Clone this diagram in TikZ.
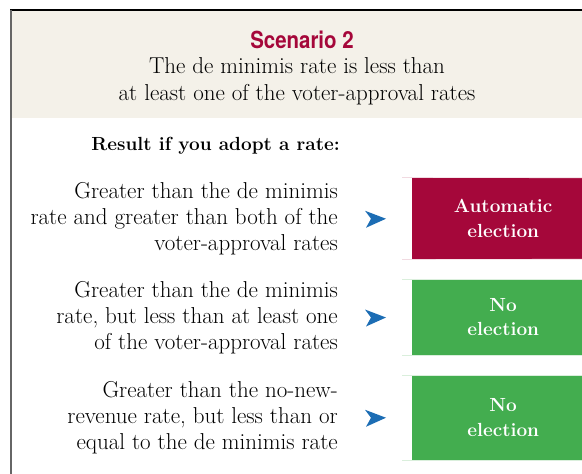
\documentclass[tikz,border=0pt]{standalone}
\usepackage{fontspec}
\usepackage{xcolor}
\usepackage{tikz}
\usetikzlibrary{calc}

\newfontfamily\headfont{TeX Gyre Heros}[FakeStretch=0.87]

\definecolor{paper}{HTML}{F4F1E9}
\definecolor{crimson}{HTML}{A5073A}
\definecolor{leaf}{HTML}{43AD4F}
\definecolor{pointerblue}{HTML}{1C6DB4}

\begin{document}
\begin{tikzpicture}[
  x=1pt, y=-1pt,
  cond/.style={anchor=east, align=right, inner sep=0pt,
    font=\fontsize{23}{25.8}\selectfont},
  outbox/.style={anchor=west, minimum width=182pt, inner sep=0pt,
    align=center, text=white, font=\bfseries\fontsize{19}{24.5}\selectfont},
  edge/.style={line width=0.6pt},
]
\clip (0,0) rectangle (582,474);

% header band and frame
\fill[paper] (11,10) rectangle (582,118);
\draw[black, line width=1.6pt] (10,10) -- (582,10);
\draw[black!60, line width=2pt] (10.5,9.5) -- (10.5,474);

\node[text=crimson, font=\headfont\bfseries\fontsize{23.5}{26}\selectfont] (title) at (302,40) {Scenario 2};
\node[align=center, font=\fontsize{23}{27}\selectfont] (subtitle) at (297,81.5)
  {The de minimis rate is less than\\at least one of the voter-approval rates};

\node[anchor=east, inner sep=0pt, font=\bfseries\fontsize{19}{24}\selectfont] (result) at (340,146)
  {Result if you adopt a rate:};

% conditions
\node[cond] (cond1) at (338,219) {Greater than the de minimis\\rate and greater than both of the\\voter-approval rates};
\node[cond] (cond2) at (338,318) {Greater than the de minimis\\rate, but less than at least one\\of the voter-approval rates};
\node[cond] (cond3) at (338,418) {Greater than the no-new-\\revenue rate, but less than or\\equal to the de minimis rate};

% outcomes
\node[outbox, fill=crimson, minimum height=81pt] (out1) at (412,218.5) {Automatic\\election};
\node[outbox, fill=leaf, minimum height=76pt] (out2) at (412,317) {No\\election};
\node[outbox, fill=leaf, minimum height=85pt] (out3) at (412,417.5) {No\\election};

\draw[edge, crimson!15] (402,177.5) -- (out1.north east);
\draw[edge, crimson!15] (402,259.5) -- (out1.south east);
\foreach \n in {2,3} {
  \draw[edge, leaf!20] (402,0 |- out\n.north) -- (out\n.north east);
  \draw[edge, leaf!20] (402,0 |- out\n.south) -- (out\n.south east);
}

% pointers between condition and outcome
\foreach \n in {1,2,3} {
  \fill[pointerblue] ($(cond\n.east)!0.5!(out\n.west)$)
    ++(-10,-8) -- ++(21,8) -- ++(-20,9) -- ++(5,-9) -- cycle;
}

\end{tikzpicture}
\end{document}
